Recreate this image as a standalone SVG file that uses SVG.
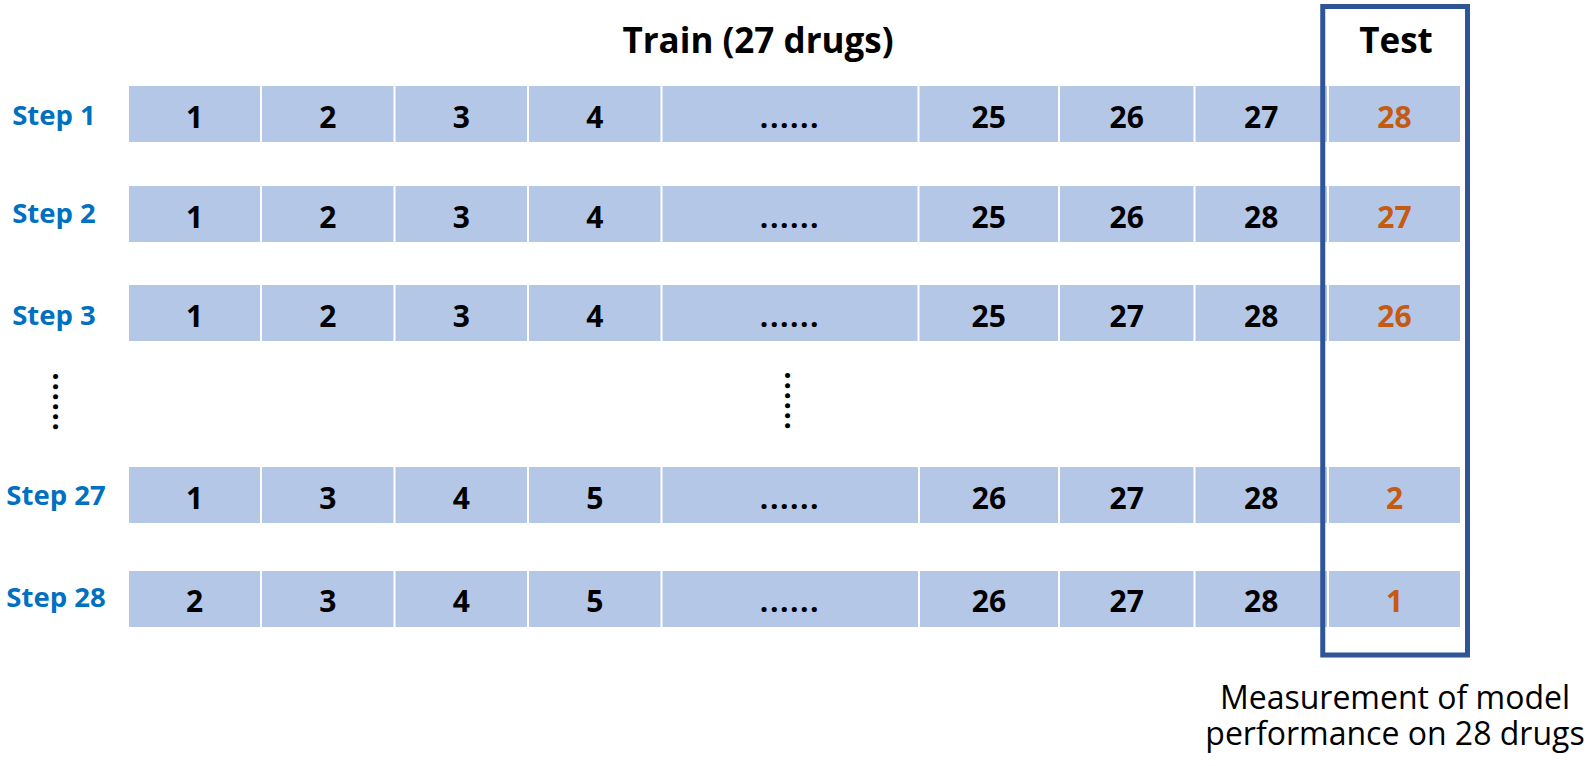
<svg xmlns="http://www.w3.org/2000/svg" width="1594" height="766" viewBox="0 0 1594 766">
<style>
.cell{fill:#B4C7E7}
.n{font-family:"Open Sans","Noto Sans",sans-serif;font-weight:700;font-size:30px;fill:#000;text-anchor:middle}
.t{fill:#C55A11}
.dots{font-family:"Open Sans","Noto Sans",sans-serif;font-weight:700;font-size:30px;fill:#000;text-anchor:middle;letter-spacing:1.5px}
.step{font-family:"Open Sans","Noto Sans",sans-serif;font-weight:700;font-size:27.5px;fill:#0070C0;text-anchor:middle}
.head{font-family:"Open Sans","Noto Sans",sans-serif;font-weight:700;font-size:35px;fill:#000;text-anchor:middle}
.cap{font-family:"Open Sans","Noto Sans",sans-serif;font-size:32px;fill:#000;text-anchor:middle}
</style>
<rect width="1594" height="766" fill="#fff"/>
<g id="title">
<text class="head" x="758" y="52.5">Train (27 drugs)</text>
<text class="head" x="1396" y="52.5">Test</text>
</g>
<g id="step1">
<text class="step" x="54" y="125">Step 1</text>
<rect class="cell" x="129" y="86" width="131" height="56"/>
<rect class="cell" x="262" y="86" width="131.5" height="56"/>
<rect class="cell" x="395.5" y="86" width="131.5" height="56"/>
<rect class="cell" x="529" y="86" width="131.5" height="56"/>
<rect class="cell" x="662.5" y="86" width="255" height="56"/>
<rect class="cell" x="919.5" y="86" width="138.5" height="56"/>
<rect class="cell" x="1060" y="86" width="133.5" height="56"/>
<rect class="cell" x="1195.5" y="86" width="131.5" height="56"/>
<rect class="cell" x="1329" y="86" width="131" height="56"/>
<text class="n" x="194.5" y="127.5">1</text>
<text class="n" x="327.75" y="127.5">2</text>
<text class="n" x="461.25" y="127.5">3</text>
<text class="n" x="594.75" y="127.5">4</text>
<text class="dots" x="790" y="127.5">......</text>
<text class="n" x="988.75" y="127.5">25</text>
<text class="n" x="1126.75" y="127.5">26</text>
<text class="n" x="1261.25" y="127.5">27</text>
<text class="n t" x="1394.5" y="127.5">28</text>
</g>
<g id="step2">
<text class="step" x="54" y="223">Step 2</text>
<rect class="cell" x="129" y="186" width="131" height="56"/>
<rect class="cell" x="262" y="186" width="131.5" height="56"/>
<rect class="cell" x="395.5" y="186" width="131.5" height="56"/>
<rect class="cell" x="529" y="186" width="131.5" height="56"/>
<rect class="cell" x="662.5" y="186" width="255" height="56"/>
<rect class="cell" x="919.5" y="186" width="138.5" height="56"/>
<rect class="cell" x="1060" y="186" width="133.5" height="56"/>
<rect class="cell" x="1195.5" y="186" width="131.5" height="56"/>
<rect class="cell" x="1329" y="186" width="131" height="56"/>
<text class="n" x="194.5" y="227.5">1</text>
<text class="n" x="327.75" y="227.5">2</text>
<text class="n" x="461.25" y="227.5">3</text>
<text class="n" x="594.75" y="227.5">4</text>
<text class="dots" x="790" y="227.5">......</text>
<text class="n" x="988.75" y="227.5">25</text>
<text class="n" x="1126.75" y="227.5">26</text>
<text class="n" x="1261.25" y="227.5">28</text>
<text class="n t" x="1394.5" y="227.5">27</text>
</g>
<g id="step3">
<text class="step" x="54" y="325">Step 3</text>
<rect class="cell" x="129" y="285" width="131" height="56"/>
<rect class="cell" x="262" y="285" width="131.5" height="56"/>
<rect class="cell" x="395.5" y="285" width="131.5" height="56"/>
<rect class="cell" x="529" y="285" width="131.5" height="56"/>
<rect class="cell" x="662.5" y="285" width="255" height="56"/>
<rect class="cell" x="919.5" y="285" width="138.5" height="56"/>
<rect class="cell" x="1060" y="285" width="133.5" height="56"/>
<rect class="cell" x="1195.5" y="285" width="131.5" height="56"/>
<rect class="cell" x="1329" y="285" width="131" height="56"/>
<text class="n" x="194.5" y="326.5">1</text>
<text class="n" x="327.75" y="326.5">2</text>
<text class="n" x="461.25" y="326.5">3</text>
<text class="n" x="594.75" y="326.5">4</text>
<text class="dots" x="790" y="326.5">......</text>
<text class="n" x="988.75" y="326.5">25</text>
<text class="n" x="1126.75" y="326.5">27</text>
<text class="n" x="1261.25" y="326.5">28</text>
<text class="n t" x="1394.5" y="326.5">26</text>
</g>
<g id="ellipsis">
<text class="dots" transform="translate(53,402.5) rotate(90)" x="0" y="0">......</text>
<text class="dots" transform="translate(785,401.5) rotate(90)" x="0" y="0">......</text>
</g>
<g id="step27">
<text class="step" x="56" y="505">Step 27</text>
<rect class="cell" x="129" y="467" width="131" height="56"/>
<rect class="cell" x="262" y="467" width="131.5" height="56"/>
<rect class="cell" x="395.5" y="467" width="131.5" height="56"/>
<rect class="cell" x="529" y="467" width="131.5" height="56"/>
<rect class="cell" x="662.5" y="467" width="255.5" height="56"/>
<rect class="cell" x="920" y="467" width="138" height="56"/>
<rect class="cell" x="1060" y="467" width="133.5" height="56"/>
<rect class="cell" x="1195.5" y="467" width="131.5" height="56"/>
<rect class="cell" x="1329" y="467" width="131" height="56"/>
<text class="n" x="194.5" y="508.5">1</text>
<text class="n" x="327.75" y="508.5">3</text>
<text class="n" x="461.25" y="508.5">4</text>
<text class="n" x="594.75" y="508.5">5</text>
<text class="dots" x="790" y="508.5">......</text>
<text class="n" x="989" y="508.5">26</text>
<text class="n" x="1126.75" y="508.5">27</text>
<text class="n" x="1261.25" y="508.5">28</text>
<text class="n t" x="1394.5" y="508.5">2</text>
</g>
<g id="step28">
<text class="step" x="56" y="607">Step 28</text>
<rect class="cell" x="129" y="571" width="131" height="56"/>
<rect class="cell" x="262" y="571" width="131.5" height="56"/>
<rect class="cell" x="395.5" y="571" width="131.5" height="56"/>
<rect class="cell" x="529" y="571" width="131.5" height="56"/>
<rect class="cell" x="662.5" y="571" width="255.5" height="56"/>
<rect class="cell" x="920" y="571" width="138" height="56"/>
<rect class="cell" x="1060" y="571" width="133.5" height="56"/>
<rect class="cell" x="1195.5" y="571" width="131.5" height="56"/>
<rect class="cell" x="1329" y="571" width="131" height="56"/>
<text class="n" x="194.5" y="612">2</text>
<text class="n" x="327.75" y="612">3</text>
<text class="n" x="461.25" y="612">4</text>
<text class="n" x="594.75" y="612">5</text>
<text class="dots" x="790" y="612">......</text>
<text class="n" x="989" y="612">26</text>
<text class="n" x="1126.75" y="612">27</text>
<text class="n" x="1261.25" y="612">28</text>
<text class="n t" x="1394.5" y="612">1</text>
</g>
<g id="test-box">
<rect x="1322.75" y="6.5" width="144.75" height="648.5" fill="none" stroke="#2F5597" stroke-width="5"/>
</g>
<g id="caption">
<text class="cap"><tspan x="1395" y="709">Measurement of model</tspan><tspan x="1395" y="745">performance on 28 drugs</tspan></text>
</g>
</svg>
